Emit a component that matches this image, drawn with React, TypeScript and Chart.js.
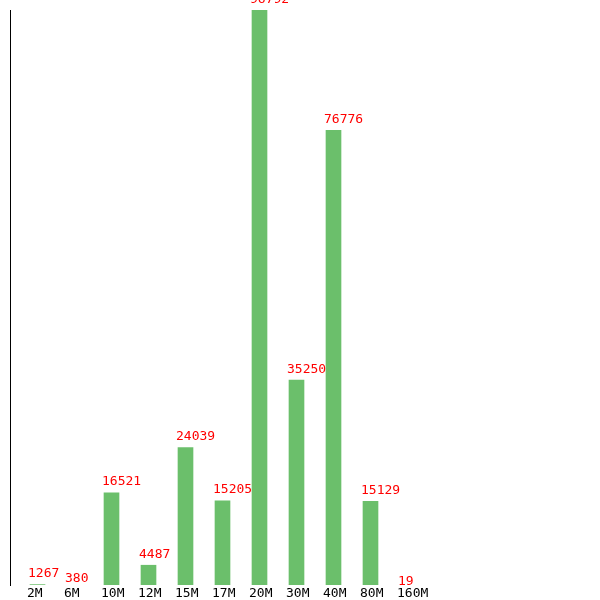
import React, { useEffect, useRef } from "react";
import { Chart, registerables } from "chart.js";

Chart.register(...registerables);

const categories = ["2M", "6M", "10M", "12M", "15M", "17M", "20M", "30M", "40M", "80M", "160M"];
const counts = [1267, 380, 16521, 4487, 24039, 15205, 96792, 35250, 76776, 15129, 19];
const yMin = 1200;
const yMax = 96792;

const FONT = '"DejaVu Sans Mono", monospace';

const valueLabels = {
  id: "valueLabels",
  afterDatasetsDraw(chart: any) {
    const ctx = chart.ctx;
    const meta = chart.getDatasetMeta(0);
    const yScale = chart.scales.y;
    ctx.save();
    ctx.font = `13px ${FONT}`;
    ctx.fillStyle = "#ff0000";
    ctx.textAlign = "left";
    ctx.textBaseline = "alphabetic";
    meta.data.forEach((bar: any, i: number) => {
      const v = counts[i];
      const y = yScale.getPixelForValue(v) - 7.5;
      ctx.fillText(String(v), bar.x - 9.5, y);
    });
    ctx.restore();
  },
};

export default function App() {
  const ref = useRef<HTMLCanvasElement | null>(null);
  useEffect(() => {
    document.body.style.margin = "0";
    const canvas = ref.current!;
    const chart = new Chart(canvas, {
      type: "bar",
      data: {
        datasets: [
          {
            data: counts.map((v, i) => ({ x: i, y: v })),
            backgroundColor: "#6bbf6b",
            barThickness: 15,
          },
        ],
      },
      options: {
        animation: false,
        responsive: false,
        devicePixelRatio: 1,
        layout: { padding: { top: 10, left: 10, right: 0, bottom: 0 } },
        plugins: { legend: { display: false }, tooltip: { enabled: false } },
        scales: {
          x: {
            type: "linear",
            offset: false,
            min: -27.5 / 37,
            max: -27.5 / 37 + 590 / 37,
            grid: { display: false },
            border: { display: false },
            afterBuildTicks: (s: any) => {
              s.ticks = categories.map((_, i) => ({ value: i }));
            },
            afterFit: (s: any) => {
              s.height = 15;
            },
            ticks: {
              autoSkip: false,
              maxRotation: 0,
              align: "start",
              labelOffset: -10.5,
              padding: -5.5,
              color: "#000000",
              font: { family: FONT, size: 13, lineHeight: 1 },
              callback: (v: any) => categories[v] ?? "",
            },
          },
          y: {
            min: yMin,
            max: yMax,
            grid: { display: false, drawTicks: false },
            border: { display: true, color: "#000000", width: 1 },
            ticks: { display: false },
            afterFit: (s: any) => {
              s.width = 0;
            },
          },
        },
      },
      plugins: [valueLabels],
    });
    return () => chart.destroy();
  }, []);
  return <canvas ref={ref} width={600} height={600} style={{ display: "block" }} />;
}
